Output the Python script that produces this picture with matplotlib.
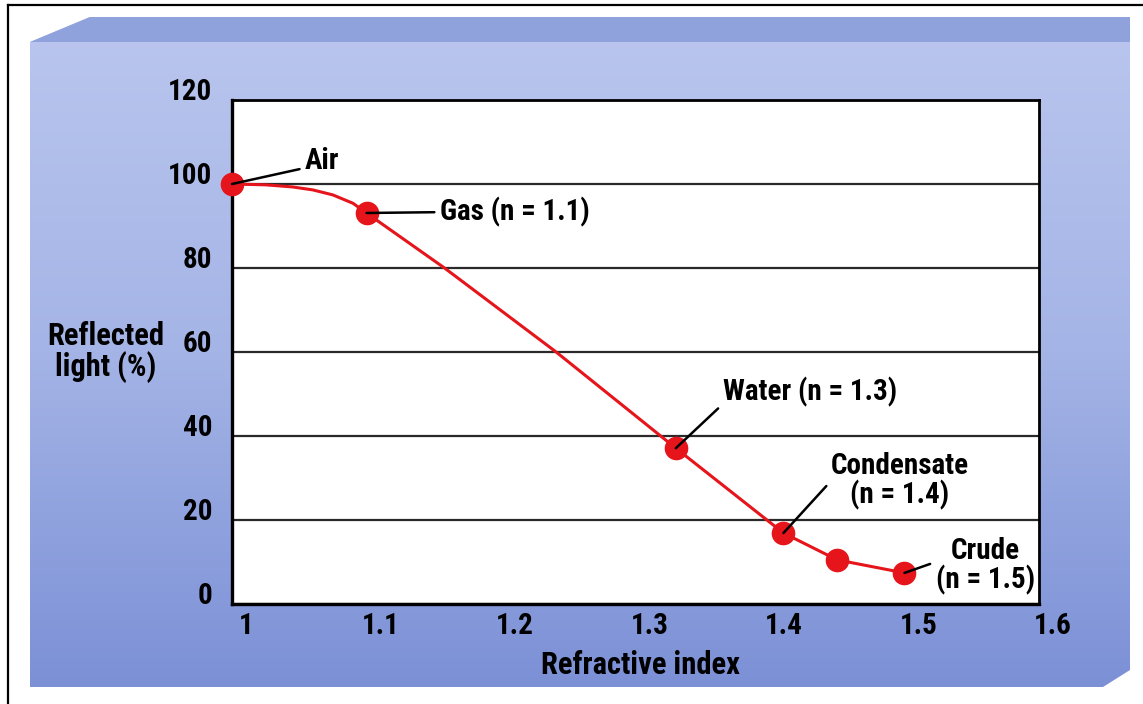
import numpy as np
import matplotlib
matplotlib.use("Agg")
import matplotlib.pyplot as plt
from matplotlib import font_manager
from matplotlib.patches import Polygon
from matplotlib.transforms import ScaledTranslation
from matplotlib.colors import LinearSegmentedColormap

# condensed face, close to the original's narrow grotesque
cond_name = "DejaVu Sans"
for f in font_manager.fontManager.ttflist:
    if f.fname.endswith("RobotoCondensed-Bold.ttf"):
        cond_name = f.name
        break
plt.rcParams['font.family'] = [cond_name, 'DejaVu Sans']
plt.rcParams['font.weight'] = 'bold'

# marked points on the curve
point_x = [1.0, 1.1, 1.33, 1.41, 1.45, 1.50]
point_y = [100, 93.1, 37.1, 16.9, 10.5, 7.4]

# curve (bend between Air and Gas)
curve_x = [1.0, 1.025, 1.045, 1.06, 1.075, 1.09, 1.1, 1.158, 1.241, 1.33, 1.41, 1.45, 1.50]
curve_y = [100, 99.8, 99.3, 98.6, 97.4, 95.4, 93.1, 80, 60, 37.1, 16.9, 10.5, 7.4]

x_ticks = [1.0, 1.1, 1.2, 1.3, 1.4, 1.5, 1.6]
x_tick_labels = ["1", "1.1", "1.2", "1.3", "1.4", "1.5", "1.6"]
y_ticks = [0, 20, 40, 60, 80, 100, 120]

labels = ["Air", "Gas (n = 1.1)", "Water (n = 1.3)", "Condensate\n(n = 1.4)", "Crude\n(n = 1.5)"]
label_points = [0, 1, 2, 3, 5]

RED = "#e5151b"

fig = plt.figure(figsize=(11.43, 7.04), dpi=100)
fig.patch.set_facecolor("white")

# background panel in pixel coordinates
bg = fig.add_axes([0, 0, 1, 1])
bg.set_xlim(0, 1143)
bg.set_ylim(704, 0)
bg.axis("off")
bg.plot([8, 8], [5, 704], color="black", lw=1.6)
bg.plot([8, 1143], [5, 5], color="black", lw=1.6)

panel = Polygon([(30, 42), (90, 17), (1130, 17), (1130, 670), (1103, 687), (30, 687)],
                closed=True, facecolor="none", edgecolor="none")
bg.add_patch(panel)
cmap = LinearSegmentedColormap.from_list("panel", ["#bac6ee", "#a4b4e6", "#7c90d6"])
grad = np.linspace(0, 1, 256).reshape(-1, 1)
im = bg.imshow(grad, cmap=cmap, aspect="auto", extent=(30, 1130, 687, 17))
im.set_clip_path(panel)
bevel = Polygon([(30, 42), (90, 17), (1130, 17), (1130, 42)], closed=True,
                facecolor="#8fa2dc", edgecolor="none")
bg.add_patch(bevel)

# main chart
ax = fig.add_axes([232 / 1143, 1 - 604 / 704, 807 / 1143, 504 / 704])
ax.set_facecolor("white")
ax.set_xlim(1.0, 1.6)
ax.set_ylim(0, 120)
ax.set_xticks(x_ticks)
ax.set_xticklabels(x_tick_labels)
ax.set_yticks(y_ticks)
ax.tick_params(length=0, labelsize=21)
ax.tick_params(axis="x", pad=6)
ax.tick_params(axis="y", pad=14)
ax.yaxis.grid(True, color="#2a2a2a", lw=1.6)
ax.set_axisbelow(True)
for side in ["left", "bottom"]:
    ax.spines[side].set_linewidth(2.4)
for side in ["top", "right"]:
    ax.spines[side].set_linewidth(2.0)

for lab in ax.get_xticklabels():
    lab.set_transform(lab.get_transform() + ScaledTranslation(0.14, 0, fig.dpi_scale_trans))
for lab in ax.get_yticklabels():
    lab.set_transform(lab.get_transform() + ScaledTranslation(0, 0.11, fig.dpi_scale_trans))

ax.plot(curve_x, curve_y, color=RED, lw=2.2, zorder=3, clip_on=False)
ax.plot(point_x, point_y, "o", color=RED, ms=16, zorder=5, clip_on=False)

# text placement for each label
text_pos = [(1.0543, 105.5), (1.1546, 93.3), (1.365, 50.5), (1.4967, 29.3), (1.5599, 9.0)]
text_ha = ["left", "left", "left", "center", "center"]
rel = [(0, 0.25), (0, 0.5), (0, 0.1), (0, 0.5), (0.08, 0.62)]
for lbl, idx, pos, ha, rp in zip(labels, label_points, text_pos, text_ha, rel):
    ax.annotate(lbl, xy=(point_x[idx], point_y[idx]), xytext=pos,
                ha=ha, va="center", fontsize=21, linespacing=1.0,
                arrowprops=dict(arrowstyle="-", color="black", lw=1.8,
                                shrinkA=2, shrinkB=0, relpos=rp),
                zorder=6)

ax.set_xlabel("Refractive index", fontsize=22, fontweight="bold", va="center")
ax.xaxis.set_label_coords(0.506, -0.121)
ax.set_ylabel("Reflected\nlight (%)", fontsize=22, fontweight="bold", rotation=0,
              ha="center", va="center", linespacing=1.0)
ax.yaxis.set_label_coords(-0.156, 0.5)

fig.savefig("out.png", dpi=100)
